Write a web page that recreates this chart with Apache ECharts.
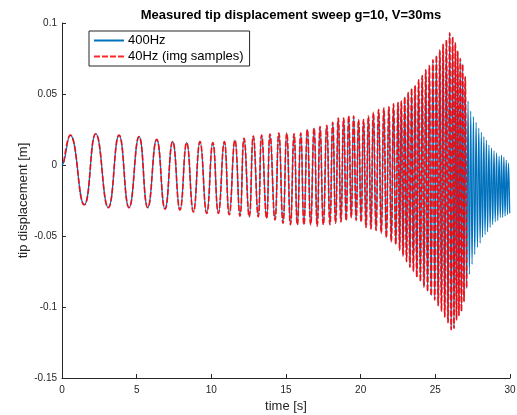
<!DOCTYPE html>
<html>
<head>
<meta charset="utf-8">
<script src="https://cdn.jsdelivr.net/npm/echarts@6/dist/echarts.min.js"></script>
<style>
html,body{margin:0;padding:0;background:#fff;}
#chart{width:517px;height:415px;}
</style>
</head>
<body>
<div id="chart"></div>
<script>
// ---- data (extrema of the measured signal) ----
const startT = [0, 0.12];
const startV = [0, 0.002];
const peakT = [0.55, 2.26, 3.82, 5.16, 6.34, 7.41, 8.35, 9.24, 10.10, 10.87, 11.58, 12.19, 12.81, 13.37, 13.93, 14.52, 15.05, 15.54, 15.99, 16.43, 16.88, 17.28, 17.73, 18.13, 18.50, 18.86, 19.20, 19.53, 19.86, 20.19, 20.52, 20.85, 21.20, 21.55, 21.89, 22.20, 22.50, 22.72, 22.95, 23.18, 23.41, 23.64, 23.88, 24.12, 24.36, 24.60, 24.84, 25.07, 25.30, 25.52, 25.74, 25.96, 26.16, 26.34, 26.50, 26.67, 26.83, 27.00, 27.19, 27.37, 27.55, 27.73, 27.91, 28.08, 28.25, 28.42, 28.59, 28.76, 28.93, 29.10, 29.27, 29.43, 29.59, 29.75, 29.90];
const peakV = [0.021, 0.022, 0.021, 0.020, 0.018, 0.0165, 0.0157, 0.0164, 0.0157, 0.0164, 0.0176, 0.0188, 0.0204, 0.0211, 0.0218, 0.0225, 0.0225, 0.022, 0.0225, 0.025, 0.026, 0.027, 0.028, 0.030, 0.033, 0.033, 0.0345, 0.0345, 0.032, 0.032, 0.0345, 0.037, 0.039, 0.040, 0.041, 0.043, 0.044, 0.045, 0.048, 0.051, 0.054, 0.056, 0.060, 0.063, 0.067, 0.070, 0.074, 0.077, 0.081, 0.085, 0.088, 0.093, 0.090, 0.086, 0.080, 0.075, 0.071, 0.062, 0.045, 0.038, 0.034, 0.030, 0.026, 0.023, 0.020, 0.0176, 0.014, 0.012, 0.010, 0.0085, 0.0063, 0.007, 0.0056, 0.0035, 0.0014];
const troughT = [1.49, 3.10, 4.49, 5.74, 6.90, 7.90, 8.80, 9.69, 10.47, 11.20, 11.92, 12.54, 13.14, 13.70, 14.26, 14.80, 15.30, 15.76, 16.20, 16.65, 17.09, 17.50, 17.94, 18.32, 18.68, 19.03, 19.37, 19.70, 20.03, 20.36, 20.69, 21.03, 21.38, 21.72, 22.05, 22.35, 22.61, 22.84, 23.07, 23.30, 23.53, 23.76, 24.00, 24.24, 24.48, 24.72, 24.96, 25.19, 25.41, 25.63, 25.85, 26.06, 26.25, 26.42, 26.58, 26.75, 26.92, 27.10, 27.28, 27.46, 27.64, 27.82, 28.00, 28.16, 28.33, 28.50, 28.67, 28.84, 29.01, 29.18, 29.35, 29.51, 29.67, 29.83, 29.98];
const troughV = [-0.028, -0.030, -0.030, -0.030, -0.031, -0.0317, -0.033, -0.034, -0.034, -0.035, -0.036, -0.0364, -0.0364, -0.0375, -0.0387, -0.041, -0.042, -0.042, -0.042, -0.042, -0.043, -0.042, -0.042, -0.041, -0.040, -0.039, -0.037, -0.039, -0.040, -0.044, -0.045, -0.046, -0.048, -0.051, -0.054, -0.056, -0.060, -0.064, -0.068, -0.072, -0.075, -0.079, -0.082, -0.086, -0.089, -0.092, -0.095, -0.099, -0.103, -0.107, -0.111, -0.116, -0.115, -0.109, -0.106, -0.103, -0.096, -0.087, -0.077, -0.070, -0.063, -0.058, -0.055, -0.051, -0.049, -0.047, -0.044, -0.042, -0.040, -0.039, -0.037, -0.037, -0.036, -0.035, -0.034];
const sampleEndT = 27.12; // the 40 Hz image samples stop here
const xTicks = [0, 5, 10, 15, 20, 25, 30];
const yTicks = [-0.15, -0.1, -0.05, 0, 0.05, 0.1];
const seriesNames = ['400Hz', '40Hz (img samples)'];

// ---- build series ----
const pts = [];
startT.forEach((t, i) => pts.push([t, startV[i]]));
peakT.forEach((t, i) => pts.push([t, peakV[i]]));
troughT.forEach((t, i) => pts.push([t, troughV[i]]));
pts.sort((a, b) => a[0] - b[0]);
const bluePts = pts;
const redPts = pts.filter(p => p[0] >= 0.12 && p[0] <= sampleEndT);

const FONT = 'Liberation Sans, Arial, Helvetica, sans-serif';
const AX = '#262626';
const chart = echarts.init(document.getElementById('chart'), null, {renderer: 'canvas'});
chart.setOption({
  animation: false,
  backgroundColor: '#fff',
  title: {
    text: 'Measured tip displacement sweep g=10, V=30ms',
    left: 286, top: 4, textAlign: 'center',
    textStyle: {fontFamily: FONT, fontSize: 13, fontWeight: 'bold', color: '#000'}
  },
  legend: {
    left: 89, top: 31, orient: 'vertical',
    data: seriesNames,
    itemWidth: 30, itemHeight: 10, itemGap: 3,
    padding: [3, 6, 3, 4],
    borderColor: AX, borderWidth: 1, backgroundColor: '#fff',
    itemStyle: {opacity: 0, borderWidth: 0},
    textStyle: {fontFamily: FONT, fontSize: 13, color: '#000', padding: [0, 0, 0, -1]}
  },
  grid: {left: 62, right: 7, top: 23, bottom: 37, containLabel: false, outerBoundsMode: 'none'},
  xAxis: {
    type: 'value', min: xTicks[0], max: xTicks[xTicks.length - 1], interval: 5,
    name: 'time [s]', nameLocation: 'middle', nameGap: 20,
    nameTextStyle: {fontFamily: FONT, fontSize: 13, color: AX},
    axisLine: {onZero: false, lineStyle: {color: AX, width: 1}},
    axisTick: {inside: true, length: 4, lineStyle: {color: AX}},
    axisLabel: {fontFamily: FONT, fontSize: 10, color: AX, margin: 7},
    splitLine: {show: false}
  },
  yAxis: {
    type: 'value', min: yTicks[0], max: yTicks[yTicks.length - 1], interval: 0.05,
    name: 'tip displacement [m]', nameLocation: 'middle', nameGap: 32, nameMoveOverlap: false,
    nameTextStyle: {fontFamily: FONT, fontSize: 13, color: AX},
    axisLine: {show: true, onZero: false, lineStyle: {color: AX, width: 1}},
    axisTick: {show: true, inside: true, length: 4, lineStyle: {color: AX}},
    axisLabel: {fontFamily: FONT, fontSize: 10, color: AX, margin: 5,
      formatter: v => String(parseFloat(v.toFixed(2)))},
    splitLine: {show: false}
  },
  series: [
    {
      name: seriesNames[0], type: 'line', data: bluePts, smooth: 0.5,
      showSymbol: false, symbol: 'none', z: 2,
      lineStyle: {color: '#0072BD', width: 1.2},
      itemStyle: {color: '#0072BD'}
    },
    {
      name: seriesNames[1], type: 'line', data: redPts, smooth: 0.5,
      showSymbol: false, symbol: 'none', z: 3,
      lineStyle: {color: '#ff0000', width: 1.7, type: [6, 2], opacity: 0.85},
      itemStyle: {color: '#ff0000'}
    }
  ]
});
</script>
</body>
</html>
